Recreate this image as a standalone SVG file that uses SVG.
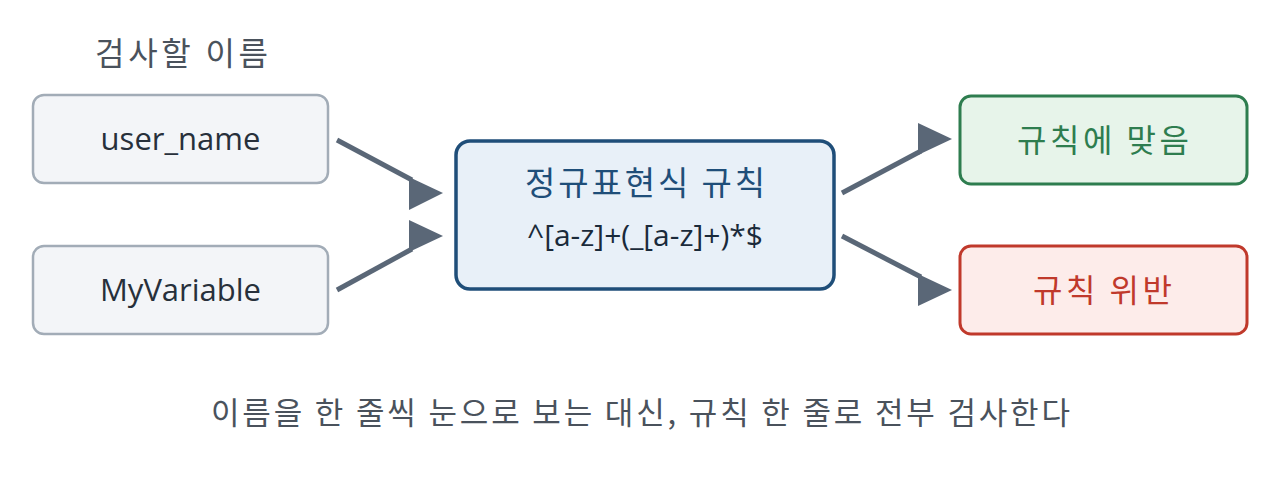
<svg xmlns="http://www.w3.org/2000/svg" width="1280" height="492" viewBox="0 0 1280 492">
<style>
.ko{font-family:"Noto Sans CJK KR","Noto Sans",sans-serif;}
.lat{font-family:"Open Sans","Noto Sans CJK KR",sans-serif;}
.in rect{fill:#f3f5f8;stroke:#a2acb7;stroke-width:2.5;}
.in text{fill:#27303b;font-size:31px;text-anchor:middle;}
.conn line{stroke:#5a6777;stroke-width:5;}
.conn polygon{fill:#5a6777;}
</style>
<rect width="1280" height="492" fill="#ffffff"/>
<text class="ko" x="95" y="65" font-size="32" fill="#4a525c" textLength="173" lengthAdjust="spacing">검사할 이름</text>
<g id="n-user" class="in">
<rect x="33" y="95" width="295" height="88" rx="11"/>
<text class="lat" x="180.5" y="150">user_name</text>
</g>
<g id="n-myvar" class="in">
<rect x="33" y="246" width="295" height="88" rx="11"/>
<text class="lat" x="180.5" y="301">MyVariable</text>
</g>
<g id="n-regex">
<rect x="456" y="141" width="378" height="148" rx="14" fill="#e8f0f8" stroke="#1f4e79" stroke-width="3.5"/>
<text class="ko" x="525" y="195" font-size="33" fill="#1f4e79" textLength="240" lengthAdjust="spacing">정규표현식 규칙</text>
<text class="lat" x="645" y="246" font-size="30" fill="#1a2a3a" text-anchor="middle">^[a-z]+(_[a-z]+)*$</text>
</g>
<g id="n-ok">
<rect x="960" y="96" width="287" height="88" rx="11" fill="#e7f4ea" stroke="#2e7d4f" stroke-width="3"/>
<text class="ko" x="1017" y="152" font-size="32" fill="#2e7d4f" textLength="172" lengthAdjust="spacing">규칙에 맞음</text>
</g>
<g id="n-bad">
<rect x="960" y="246" width="287" height="88" rx="11" fill="#fdecea" stroke="#c0392b" stroke-width="3"/>
<text class="ko" x="1033" y="302" font-size="32" fill="#c0392b" textLength="139" lengthAdjust="spacing">규칙 위반</text>
</g>
<g id="connectors" class="conn">
<line x1="337" y1="140" x2="412" y2="180"/>
<polygon points="409,177 443,193 409,210"/>
<line x1="337" y1="290" x2="412" y2="249"/>
<polygon points="409,220 443,236 409,252"/>
<line x1="842" y1="193" x2="921" y2="151"/>
<polygon points="918,123 952,139 918,155"/>
<line x1="842" y1="236" x2="921" y2="277"/>
<polygon points="918,274 952,290 918,306"/>
</g>
<text class="ko" x="211" y="424" font-size="31" fill="#4a525c" textLength="859" lengthAdjust="spacing">이름을 한 줄씩 눈으로 보는 대신, 규칙 한 줄로 전부 검사한다</text>
</svg>
